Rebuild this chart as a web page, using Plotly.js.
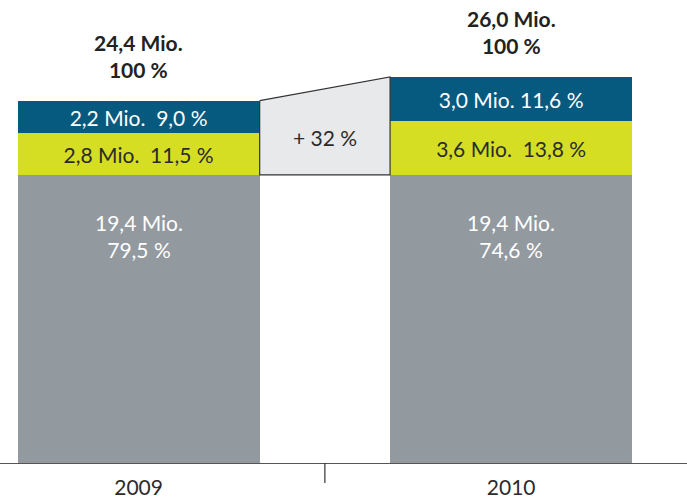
<!DOCTYPE html>
<html>
<head>
<meta charset="utf-8">
<script src="https://cdn.plot.ly/plotly-3.0.1.min.js"></script>
<style>
  html, body { margin: 0; padding: 0; background: #fff; }
  #chart { width: 687px; height: 499px; }
</style>
</head>
<body>
<div id="chart"></div>
<script>
// chart data (Mio.)
const years = ["2009", "2010"];
const grayVals = [19.4, 19.4];
const yellowVals = [2.8, 3.6];
const blueVals = [2.2, 3.0];
const totals = [24.4, 26.0];
const grayPct = ["79,5 %", "74,6 %"];
const yellowPct = ["11,5 %", "13,8 %"];
const bluePct = ["9,0 %", "11,6 %"];
const blueGap = ["  ", " "];
const totalPct = ["100 %", "100 %"];
const changeLabel = "+ 32 %";

const xs = [0, 1];
const barWidth = 0.65;
const fontFam = "Lato, 'Open Sans', sans-serif";

const fmt = (v) => v.toFixed(1).replace(".", ",");

const gray = {
  type: "bar", x: xs, y: grayVals, width: barWidth,
  marker: { color: "#92999f", line: { width: 0 } },
  hoverinfo: "none",
};
const yellow = {
  type: "bar", x: xs, y: yellowVals, width: barWidth,
  marker: { color: "#d6de23", line: { width: 0 } },
  text: yellowVals.map((v, i) => fmt(v) + " Mio.  " + yellowPct[i]),
  textposition: "inside", insidetextanchor: "middle", constraintext: "none",
  textfont: { family: fontFam, size: 21, color: "#2b2b2b" },
  hoverinfo: "none",
};
const blue = {
  type: "bar", x: xs, y: blueVals, width: barWidth,
  marker: { color: "#06597f", line: { width: 0 } },
  text: blueVals.map((v, i) => fmt(v) + " Mio." + blueGap[i] + bluePct[i]),
  textposition: "inside", insidetextanchor: "middle", constraintext: "none",
  textfont: { family: fontFam, size: 21, color: "#ffffff" },
  hoverinfo: "none",
};

// connector between the two top segments
const connector = {
  type: "scatter", mode: "lines", fill: "toself",
  x: [xs[0] + barWidth / 2, xs[1] - barWidth / 2, xs[1] - barWidth / 2, xs[0] + barWidth / 2, xs[0] + barWidth / 2],
  y: [totals[0], totals[1], grayVals[1], grayVals[0], totals[0]],
  fillcolor: "#e8e9eb",
  line: { color: "#333333", width: 1.2 },
  hoverinfo: "none",
};

const annotations = [];
xs.forEach((x, i) => {
  annotations.push({
    x: x, y: totals[i], xref: "x", yref: "y",
    text: "<b>" + fmt(totals[i]) + " Mio.<br>" + totalPct[i] + "</b>",
    showarrow: false, yanchor: "bottom", yshift: 17,
    font: { family: fontFam, size: 21, color: "#222222" },
  });
  annotations.push({
    x: x, y: grayVals[i], xref: "x", yref: "y",
    text: fmt(grayVals[i]) + " Mio.<br>" + grayPct[i],
    showarrow: false, yanchor: "top", yshift: -33,
    font: { family: fontFam, size: 21, color: "#ffffff" },
  });
});
annotations.push({
  x: 0.5, y: (grayVals[0] + totals[0]) / 2, xref: "x", yref: "y",
  text: changeLabel, showarrow: false,
  font: { family: fontFam, size: 21, color: "#2b2b2b" },
});

const layout = {
  width: 687, height: 499,
  margin: { l: 0, r: 0, t: 0, b: 36 },
  barmode: "stack",
  showlegend: false,
  paper_bgcolor: "#ffffff", plot_bgcolor: "#ffffff",
  xaxis: {
    range: [-0.372, 1.472],
    tickvals: xs, ticktext: years,
    ticks: "", showgrid: false, zeroline: false,
    showline: true, linecolor: "#555555", linewidth: 1.2,
    tickfont: { family: fontFam, size: 21, color: "#2b2b2b" },
    ticklabelstandoff: 6,
    fixedrange: true,
  },
  yaxis: {
    range: [0, 31.18],
    visible: false, showgrid: false, zeroline: false,
    fixedrange: true,
  },
  shapes: [{
    type: "line", xref: "x", yref: "paper",
    x0: 0.5, x1: 0.5, y0: 0, y1: -20 / 463,
    line: { color: "#333333", width: 1.2 },
  }],
  annotations: annotations,
};

Plotly.newPlot("chart", [gray, yellow, blue, connector], layout, { displayModeBar: false, staticPlot: true });
</script>
</body>
</html>
